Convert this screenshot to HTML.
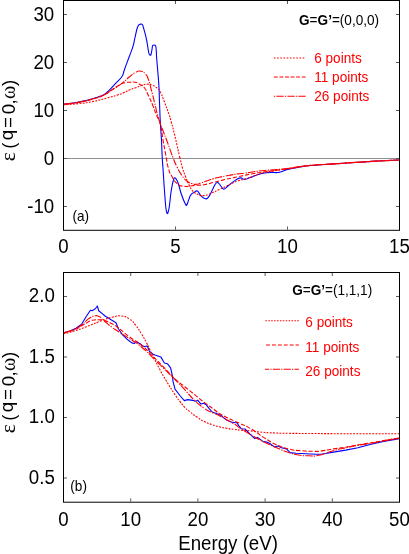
<!DOCTYPE html>
<html><head><meta charset="utf-8"><title>chart</title>
<style>html,body{margin:0;padding:0;background:#fff;}body{width:409px;height:554px;overflow:hidden;position:relative;font-family:"Liberation Sans",sans-serif;}</style>
</head><body>
<svg width="409" height="554" viewBox="0 0 409 554" style="position:absolute;left:0;top:0;will-change:transform">
<rect width="409" height="554" fill="#fff"/>
<line x1="63.5" y1="158.5" x2="399.5" y2="158.5" stroke="#909090" stroke-width="1"/>
<g clip-path="url(#ca)">
<path d="M63.5 104.2C65.2 104.0 67.5 103.8 71.0 103.3C74.5 102.8 75.2 102.8 78.7 102.1C82.2 101.4 82.6 101.3 86.0 100.5C89.4 99.7 90.3 99.4 93.3 98.5C96.3 97.6 96.5 97.5 99.0 96.6C101.5 95.7 101.4 96.4 103.9 94.8C106.4 93.2 107.1 92.4 109.8 89.7C112.5 87.0 112.8 86.5 115.6 83.4C118.4 80.3 119.9 79.7 122.0 76.5C124.1 73.3 122.7 74.4 124.4 69.7C126.1 65.0 127.3 61.9 129.3 56.5C131.3 51.1 131.6 51.1 132.9 46.7C134.2 42.3 134.1 41.5 135.0 37.5C135.9 33.5 136.1 32.2 136.8 29.5C137.5 26.8 137.6 27.0 138.2 25.8C138.8 24.6 138.8 24.9 139.4 24.5C140.0 24.1 140.1 24.1 140.8 24.1C141.5 24.1 141.7 23.8 142.3 24.6C142.9 25.4 142.6 24.7 143.4 27.5C144.2 30.3 144.9 32.5 145.8 36.4C146.7 40.2 146.6 40.2 147.3 44.0C148.0 47.8 148.2 50.2 148.8 52.8C149.4 55.4 149.5 54.6 150.0 55.0C150.5 55.4 150.6 55.7 151.0 54.5C151.4 53.3 151.6 51.9 151.9 50.0C152.2 48.1 152.2 47.3 152.5 46.2C152.8 45.1 152.6 45.5 153.2 45.3C153.8 45.1 154.6 44.9 155.2 45.3C155.8 45.7 155.6 45.2 155.9 47.0C156.2 48.8 156.2 50.0 156.4 53.0C156.6 56.0 156.2 52.7 156.8 60.0C157.4 67.3 158.2 75.1 158.8 84.4C159.4 93.7 159.1 91.2 159.4 100.0C159.8 108.8 159.8 112.6 160.3 122.0C160.8 131.4 161.1 132.6 161.5 140.3C161.9 148.0 161.7 147.0 162.1 155.0C162.5 163.0 162.8 165.1 163.4 174.4C164.0 183.7 164.1 186.2 164.8 195.0C165.5 203.8 165.6 208.7 166.6 212.0C167.6 215.3 167.9 213.4 168.9 209.0C169.9 204.6 169.9 199.5 170.9 193.0C171.9 186.5 172.2 184.5 173.2 181.0C174.2 177.5 174.1 177.4 175.2 177.9C176.3 178.4 176.7 179.2 178.1 183.0C179.5 186.8 179.7 189.3 181.3 194.0C182.9 198.7 183.7 200.7 185.0 203.3C186.3 205.9 185.9 205.7 186.7 205.0C187.5 204.3 187.6 202.5 188.6 200.1C189.6 197.7 189.7 196.4 191.0 194.6C192.3 192.8 192.5 193.3 194.0 192.5C195.5 191.7 195.7 190.3 197.4 191.1C199.1 191.9 199.2 194.2 201.1 196.0C203.0 197.8 203.7 198.5 205.4 198.8C207.1 199.1 206.8 199.1 208.4 197.2C210.0 195.3 210.5 193.5 212.1 190.5C213.7 187.5 213.9 186.2 215.2 184.3C216.5 182.4 216.5 182.3 217.6 182.5C218.7 182.7 219.0 183.6 220.1 185.0C221.2 186.4 221.5 187.4 222.5 188.3C223.5 189.2 223.2 189.4 224.3 189.0C225.4 188.6 225.7 187.9 227.4 186.5C229.1 185.1 229.6 184.6 231.7 182.9C233.8 181.2 234.5 180.6 236.6 179.4C238.7 178.2 239.1 177.9 240.8 177.9C242.5 177.9 242.2 179.1 243.7 179.3C245.2 179.5 245.3 179.3 247.3 178.7C249.3 178.1 249.6 177.9 252.2 176.9C254.8 175.9 255.5 175.3 258.3 174.4C261.1 173.5 261.5 173.5 264.4 173.0C267.3 172.5 267.7 172.5 270.6 172.4C273.5 172.3 274.4 172.7 276.7 172.6C279.0 172.5 278.3 172.6 280.3 172.0C282.3 171.4 282.9 170.9 285.2 170.2C287.5 169.5 285.8 169.8 290.0 168.9C294.2 168.0 297.3 167.3 303.3 166.4C309.3 165.5 308.4 165.8 315.6 165.2C322.8 164.6 324.2 164.6 334.2 163.9C344.2 163.2 347.1 162.9 358.4 162.2C369.7 161.5 373.0 161.3 382.6 160.8C392.2 160.3 395.6 160.2 399.5 160.0" fill="none" stroke="#0000ff" stroke-width="1.1" stroke-linejoin="round"/>
<path d="M63.5 104.8C68.6 104.4 68.8 104.7 78.7 103.6C88.6 102.5 83.5 103.4 93.3 101.4C103.1 99.4 99.9 99.8 108.0 97.7C116.1 95.6 112.3 96.7 117.6 95.0C122.9 93.3 120.1 94.3 124.0 92.6C127.9 90.9 125.6 91.4 129.3 89.9C133.0 88.4 131.1 89.4 135.0 88.0C138.9 86.6 137.0 87.0 141.1 85.7C145.2 84.4 143.5 84.4 147.2 84.2C150.9 84.0 148.8 83.8 152.1 85.1C155.4 86.4 154.1 85.5 157.0 88.1C159.9 90.7 158.3 88.5 160.7 93.0C163.1 97.5 161.5 94.3 164.3 101.6C167.1 108.9 166.9 108.2 169.2 115.0C171.5 121.8 169.2 114.0 171.3 122.0C173.4 130.0 173.0 128.1 175.6 139.1C178.2 150.1 177.7 148.6 179.2 155.0C180.7 161.4 179.0 153.9 180.1 158.3C181.2 162.7 180.7 162.0 182.5 168.1C184.3 174.2 183.4 171.0 185.6 176.7C187.8 182.4 186.8 180.3 189.2 185.2C191.6 190.1 191.0 188.7 192.9 191.3C194.8 193.9 192.7 191.6 195.0 192.9C197.3 194.2 197.0 194.2 199.9 195.1C202.8 196.0 200.8 195.8 203.6 195.6C206.4 195.4 205.2 195.5 208.4 194.4C211.6 193.3 209.6 193.9 213.3 192.3C217.0 190.7 215.3 191.4 219.4 189.5C223.5 187.6 221.5 188.4 225.6 186.5C229.7 184.6 227.6 185.5 231.7 183.7C235.8 181.9 233.0 182.7 237.8 181.0C242.6 179.3 241.3 180.2 246.1 178.7C250.9 177.2 248.1 178.0 252.2 176.6C256.3 175.2 254.2 175.7 258.3 174.4C262.4 173.1 258.3 173.9 264.4 172.6C270.5 171.3 268.2 171.7 276.7 170.4C285.2 169.1 281.1 170.0 290.0 168.6C298.9 167.2 294.8 167.4 303.3 166.2C311.8 165.0 305.3 165.8 315.6 165.0C325.9 164.2 319.9 164.8 334.2 163.9C348.5 163.0 342.3 163.2 358.4 162.2C374.5 161.2 368.9 161.5 382.6 160.8C396.3 160.1 393.9 160.3 399.5 160.0" fill="none" stroke="#ff0000" stroke-width="1.1" stroke-linejoin="round" stroke-dasharray="1.9 1.3"/>
<path d="M63.5 104.3C68.6 103.6 68.8 104.1 78.7 102.3C88.6 100.5 84.9 101.3 93.3 98.9C101.7 96.5 98.0 97.8 103.9 95.0C109.8 92.2 105.8 94.0 111.0 90.6C116.2 87.2 114.8 87.5 119.6 84.8C124.4 82.1 121.6 83.4 125.4 82.6C129.2 81.8 127.7 82.4 130.9 82.3C134.1 82.2 132.0 81.5 135.0 82.2C138.0 82.9 136.8 82.6 139.9 84.4C143.0 86.2 141.4 83.8 144.2 87.5C147.0 91.2 145.6 89.6 148.4 95.5C151.2 101.4 150.0 98.7 152.7 105.2C155.4 111.7 153.9 108.7 156.4 115.0C158.9 121.3 158.1 115.7 160.3 124.0C162.5 132.3 161.2 129.7 163.0 140.0C164.8 150.3 164.0 145.6 165.8 155.0C167.6 164.4 166.3 160.9 168.4 168.1C170.5 175.3 169.2 171.6 172.1 176.7C175.0 181.8 173.3 180.2 177.0 183.4C180.7 186.6 178.2 185.4 183.1 186.2C188.0 187.0 187.7 186.1 191.7 185.8C195.7 185.5 191.9 185.5 195.0 185.3C198.1 185.1 197.0 185.5 201.1 185.1C205.2 184.7 203.1 185.0 207.2 184.1C211.3 183.2 209.2 183.6 213.3 182.5C217.4 181.4 215.3 181.9 219.4 180.9C223.5 179.9 221.5 180.4 225.6 179.4C229.7 178.4 227.6 178.9 231.7 178.0C235.8 177.1 233.4 177.7 237.8 176.8C242.2 175.9 240.2 176.2 245.0 175.2C249.8 174.2 245.7 174.9 252.2 173.8C258.7 172.7 256.2 173.0 264.4 171.8C272.6 170.6 268.2 171.4 276.7 170.2C285.2 169.0 281.1 169.6 290.0 168.3C298.9 167.0 294.8 167.3 303.3 166.2C311.8 165.1 305.3 165.8 315.6 165.0C325.9 164.2 319.9 164.8 334.2 163.9C348.5 163.0 342.3 163.2 358.4 162.2C374.5 161.2 368.9 161.5 382.6 160.8C396.3 160.1 393.9 160.3 399.5 160.0" fill="none" stroke="#ff0000" stroke-width="1.1" stroke-linejoin="round" stroke-dasharray="4.4 1.8"/>
<path d="M63.5 104.3C68.6 103.6 68.8 104.1 78.7 102.2C88.6 100.3 84.9 101.1 93.3 98.7C101.7 96.3 98.0 97.7 103.9 94.9C109.8 92.1 106.8 93.0 111.0 90.4C115.2 87.8 112.7 89.5 116.5 87.0C120.3 84.5 118.2 86.2 122.5 82.9C126.8 79.6 125.1 80.4 129.3 77.0C133.5 73.6 131.5 74.5 135.2 72.6C138.9 70.7 137.1 70.7 140.5 71.2C143.9 71.7 142.8 71.3 145.4 74.1C148.0 76.9 146.4 74.1 148.4 79.6C150.4 85.1 149.4 82.9 151.5 90.6C153.6 98.3 152.6 94.7 154.6 102.8C156.6 110.9 155.6 107.9 157.6 115.0C159.6 122.1 158.5 118.3 160.5 124.0C162.5 129.7 161.5 126.7 163.5 132.0C165.5 137.3 164.5 134.5 166.6 140.0C168.7 145.5 167.5 142.5 169.7 148.6C171.9 154.7 170.9 152.2 173.3 158.3C175.7 164.4 174.1 161.2 177.0 166.9C179.9 172.6 178.6 170.8 181.9 175.5C185.2 180.2 183.5 178.4 186.8 181.0C190.1 183.6 188.4 182.3 191.7 183.4C195.0 184.5 193.5 184.5 196.6 184.3C199.7 184.1 197.6 184.1 201.1 182.9C204.6 181.7 203.1 182.1 207.2 180.7C211.3 179.3 209.2 180.0 213.3 178.8C217.4 177.6 215.3 178.1 219.4 177.2C223.5 176.3 221.5 176.8 225.6 176.0C229.7 175.2 227.6 175.6 231.7 174.9C235.8 174.2 233.4 174.5 237.8 173.9C242.2 173.3 240.2 173.7 245.0 173.1C249.8 172.5 245.7 172.9 252.2 172.0C258.7 171.1 256.2 171.3 264.4 170.5C272.6 169.7 268.2 170.4 276.7 169.6C285.2 168.8 281.1 169.2 290.0 168.1C298.9 167.0 294.8 167.2 303.3 166.2C311.8 165.2 305.3 165.8 315.6 165.0C325.9 164.2 319.9 164.8 334.2 163.9C348.5 163.0 342.3 163.2 358.4 162.2C374.5 161.2 368.9 161.5 382.6 160.8C396.3 160.1 393.9 160.3 399.5 160.0" fill="none" stroke="#ff0000" stroke-width="1.1" stroke-linejoin="round" stroke-dasharray="1.3 1.3 7.3 1.3"/>
</g>
<path d="M63.5 332.8L70.0 331.0L76.0 328.3L81.6 324.3L86.4 316.3L90.4 310.2L92.0 310.8L95.0 309.0L96.7 307.0L97.2 305.9L97.8 307.5L98.7 310.8L102.3 313.6L105.0 316.0L111.1 319.7L116.0 322.7L118.4 328.8L122.1 334.3L127.0 339.2L131.9 342.9L134.3 343.5L136.2 341.7L140.5 344.1L144.1 346.6L147.2 346.0L149.6 351.5L152.7 353.9L155.0 354.9L160.8 356.9L164.4 363.0L167.4 363.7L170.6 367.9L172.3 375.2L173.0 381.3L175.0 389.2L179.9 395.5L184.3 400.6L187.7 399.6L192.6 400.4L196.0 401.2L197.7 400.2L200.9 404.1L203.4 403.2L206.3 404.8L209.2 408.7L212.2 412.0L216.4 413.6L221.5 415.8L226.7 420.2L232.5 422.4L236.9 422.8L239.1 426.1L241.3 428.7L245.0 429.0L247.9 431.9L250.0 434.1L254.7 438.6L257.6 437.4L263.2 441.6L266.9 442.1L270.6 444.0L274.2 446.9L277.9 446.0L281.6 447.7L286.5 448.9L290.1 452.6L296.2 453.3L306.0 453.8L315.8 454.3L321.2 454.3L333.4 452.1L345.7 450.1L357.9 447.7L370.1 444.5L382.3 441.6L392.1 439.9L399.5 438.6" fill="none" stroke="#0000ff" stroke-width="1.1" stroke-linejoin="round"/>
<path d="M63.5 333.5C67.1 332.7 66.6 333.3 74.2 331.0C81.8 328.7 78.2 329.8 86.4 326.7C94.6 323.6 92.6 324.2 98.7 321.8C104.8 319.4 100.3 320.9 104.8 319.4C109.3 317.9 106.9 318.3 112.3 317.2C117.7 316.1 115.2 315.4 120.9 316.0C126.6 316.6 124.5 316.0 129.4 319.1C134.3 322.2 131.5 320.1 135.6 325.2C139.7 330.3 138.0 328.4 141.7 334.3C145.4 340.2 143.8 337.6 146.6 342.9C149.4 348.2 147.8 345.3 150.2 350.2C152.6 355.1 150.8 351.3 153.9 357.6C157.0 363.9 155.5 361.5 159.6 369.1C163.7 376.7 161.0 372.0 166.1 380.5C171.2 389.0 170.4 387.6 175.0 394.6C179.6 401.6 176.6 397.2 179.9 401.4C183.2 405.6 181.4 403.8 184.8 407.3C188.2 410.8 185.8 408.5 190.0 411.8C194.2 415.1 192.4 414.0 197.3 417.3C202.2 420.6 199.8 419.3 204.7 421.7C209.6 424.1 207.1 422.9 212.0 424.6C216.9 426.3 214.4 425.6 219.3 426.8C224.2 428.0 221.8 427.5 226.7 428.3C231.6 429.1 229.1 428.7 234.0 429.3C238.9 429.9 236.0 429.7 241.3 430.2C246.6 430.7 243.8 430.2 250.0 430.8C256.2 431.4 251.5 431.3 259.8 432.0C268.1 432.7 265.3 432.6 275.0 433.0C284.7 433.4 276.1 433.1 288.9 433.3C301.7 433.5 296.3 433.4 313.3 433.5C330.3 433.6 311.1 433.6 339.8 433.7C368.5 433.8 379.6 433.8 399.5 433.8" fill="none" stroke="#ff0000" stroke-width="1.1" stroke-linejoin="round" stroke-dasharray="1.9 1.3"/>
<path d="M63.5 332.8C67.2 331.7 68.7 331.9 74.7 329.6C80.7 327.3 77.7 328.0 81.6 325.8C85.5 323.6 83.6 324.7 86.4 323.1C89.2 321.5 87.6 322.0 90.1 321.0C92.6 320.0 91.1 320.4 94.0 320.0C96.9 319.6 95.1 319.6 98.7 319.8C102.3 320.0 100.4 319.3 104.8 320.6C109.2 321.9 107.9 321.6 112.0 323.7C116.1 325.8 111.4 322.6 117.2 327.0C123.0 331.4 121.2 330.7 129.4 336.8C137.6 342.9 134.1 339.0 141.7 345.3C149.3 351.6 144.6 348.2 152.2 355.7C159.8 363.2 156.8 360.2 164.4 367.9C172.0 375.6 168.2 372.6 175.0 378.9C181.8 385.2 178.3 381.5 184.8 386.7C191.3 391.9 188.1 389.4 194.6 394.6C201.1 399.8 197.5 397.2 204.3 402.4C211.1 407.6 210.0 406.5 215.0 410.2C220.0 413.9 213.0 409.8 219.3 413.4C225.6 417.0 227.1 417.5 234.0 420.9C240.9 424.3 233.9 420.6 240.0 423.5C246.1 426.4 244.1 424.7 252.2 429.5C260.3 434.3 256.2 432.8 264.4 437.9C272.6 443.0 268.5 441.1 276.7 444.8C284.9 448.5 280.8 447.0 288.9 449.0C297.0 451.0 293.0 449.9 301.1 450.7C309.2 451.5 306.6 451.2 313.3 451.3C320.0 451.4 314.5 451.7 321.2 450.9C327.9 450.1 325.2 450.1 333.4 448.9C341.6 447.7 337.5 448.5 345.7 447.2C353.9 445.9 349.8 446.3 357.9 444.9C366.0 443.5 362.0 444.4 370.1 443.0C378.2 441.6 372.5 442.5 382.3 440.8C392.1 439.1 393.8 438.9 399.5 437.9" fill="none" stroke="#ff0000" stroke-width="1.1" stroke-linejoin="round" stroke-dasharray="4.4 1.8"/>
<path d="M63.5 332.8C67.2 331.6 68.7 331.7 74.7 329.1C80.7 326.5 77.7 327.7 81.6 324.9C85.5 322.1 83.3 323.2 86.4 320.6C89.5 318.0 87.9 318.8 91.0 317.2C94.1 315.6 92.9 315.9 95.6 315.7C98.3 315.5 96.8 315.6 99.0 316.6C101.2 317.6 100.3 317.2 102.3 318.8C104.3 320.4 101.8 318.7 105.0 321.5C108.2 324.3 107.9 324.2 112.0 327.3C116.1 330.4 111.4 326.9 117.2 330.7C123.0 334.5 121.2 333.1 129.4 338.6C137.6 344.1 133.5 340.5 141.7 347.2C149.9 353.9 146.3 351.5 153.9 358.8C161.5 366.1 157.4 362.2 164.4 369.1C171.4 376.0 168.2 372.6 175.0 379.5C181.8 386.4 178.3 382.7 184.8 389.7C191.3 396.7 188.1 394.2 194.6 400.4C201.1 406.6 198.4 404.2 204.3 408.3C210.2 412.4 207.2 410.2 212.2 412.7C217.2 415.2 212.0 412.1 219.3 415.8C226.6 419.5 227.1 419.8 234.0 423.9C240.9 428.0 233.9 424.2 240.0 428.1C246.1 432.0 244.1 430.8 252.2 435.5C260.3 440.2 256.2 438.0 264.4 442.1C272.6 446.2 268.5 444.2 276.7 447.7C284.9 451.2 281.6 450.2 288.9 452.6C296.2 455.0 292.2 454.0 298.7 455.0C305.2 456.0 301.7 455.6 308.4 455.7C315.1 455.8 310.5 456.9 318.8 455.3C327.1 453.7 324.4 453.3 333.4 450.8C342.4 448.3 337.5 449.6 345.7 447.8C353.9 446.0 349.8 446.7 357.9 445.3C366.0 443.9 362.0 444.9 370.1 443.5C378.2 442.1 372.5 442.9 382.3 441.1C392.1 439.3 393.8 439.1 399.5 438.1" fill="none" stroke="#ff0000" stroke-width="1.1" stroke-linejoin="round" stroke-dasharray="1.3 1.3 7.3 1.3"/>
<defs><clipPath id="ca"><rect x="63.5" y="0.5" width="336.0" height="229.8"/></clipPath></defs>
<rect x="63.5" y="0.5" width="336.0" height="229.8" fill="none" stroke="#000" stroke-width="1"/>
<rect x="63.5" y="272.5" width="336.0" height="229.7" fill="none" stroke="#000" stroke-width="1"/>
<path d="M64.0 14.5 L67.0 14.5 M399.0 14.5 L396.0 14.5 M64.0 62.5 L67.0 62.5 M399.0 62.5 L396.0 62.5 M64.0 110.5 L67.0 110.5 M399.0 110.5 L396.0 110.5 M64.0 158.5 L67.0 158.5 M399.0 158.5 L396.0 158.5 M64.0 206.5 L67.0 206.5 M399.0 206.5 L396.0 206.5 M175.5 229.8 L175.5 226.5 M175.5 1.0 L175.5 4.0 M287.5 229.8 L287.5 226.5 M287.5 1.0 L287.5 4.0 M64.0 296.5 L67.0 296.5 M399.0 296.5 L396.0 296.5 M64.0 357.0 L67.0 357.0 M399.0 357.0 L396.0 357.0 M64.0 417.5 L67.0 417.5 M399.0 417.5 L396.0 417.5 M64.0 478.0 L67.0 478.0 M399.0 478.0 L396.0 478.0 M130.7 501.7 L130.7 498.4 M130.7 273.0 L130.7 276.0 M197.9 501.7 L197.9 498.4 M197.9 273.0 L197.9 276.0 M265.1 501.7 L265.1 498.4 M265.1 273.0 L265.1 276.0 M332.3 501.7 L332.3 498.4 M332.3 273.0 L332.3 276.0" stroke="#5a5a5a" stroke-width="1" fill="none"/>
<g font-family="Liberation Sans, sans-serif" font-size="18.7" fill="#000">
<text transform="translate(54.20 21.00) scale(1 1.045)" text-anchor="end">30</text>
<text transform="translate(54.20 69.00) scale(1 1.045)" text-anchor="end">20</text>
<text transform="translate(54.20 117.00) scale(1 1.045)" text-anchor="end">10</text>
<text transform="translate(54.20 165.00) scale(1 1.045)" text-anchor="end">0</text>
<text transform="translate(54.20 213.00) scale(1 1.045)" text-anchor="end">-10</text>
<text transform="translate(63.50 253.10) scale(1 1.045)" text-anchor="middle">0</text>
<text transform="translate(175.50 253.10) scale(1 1.045)" text-anchor="middle">5</text>
<text transform="translate(287.50 253.10) scale(1 1.045)" text-anchor="middle">10</text>
<text transform="translate(399.50 253.10) scale(1 1.045)" text-anchor="middle">15</text>
<text transform="translate(54.80 302.40) scale(1 1.045)" text-anchor="end">2.0</text>
<text transform="translate(54.80 362.90) scale(1 1.045)" text-anchor="end">1.5</text>
<text transform="translate(54.80 423.40) scale(1 1.045)" text-anchor="end">1.0</text>
<text transform="translate(54.80 483.90) scale(1 1.045)" text-anchor="end">0.5</text>
<text transform="translate(63.50 525.70) scale(1 1.045)" text-anchor="middle">0</text>
<text transform="translate(130.70 525.70) scale(1 1.045)" text-anchor="middle">10</text>
<text transform="translate(197.90 525.70) scale(1 1.045)" text-anchor="middle">20</text>
<text transform="translate(265.10 525.70) scale(1 1.045)" text-anchor="middle">30</text>
<text transform="translate(332.30 525.70) scale(1 1.045)" text-anchor="middle">40</text>
<text transform="translate(399.50 525.70) scale(1 1.045)" text-anchor="middle">50</text>
<text transform="translate(228.10 550.30) scale(1 1.045)" text-anchor="middle">Energy (eV)</text>
<g transform="translate(14.5 161) rotate(-90)"><text x="-0.3" font-family="Liberation Serif, serif" font-size="21.5">ε</text><text x="12.3">(</text><text x="20.7" y="-2">q</text><text x="33.1" y="-0.4">=</text><text x="46.8">0</text><text x="56.5">,</text><text x="62.1" font-family="Liberation Serif, serif" font-size="20.3">ω</text><text x="75.1">)</text></g>
<g transform="translate(14.5 433) rotate(-90)"><text x="-0.3" font-family="Liberation Serif, serif" font-size="21.5">ε</text><text x="12.3">(</text><text x="20.7" y="-2">q</text><text x="33.1" y="-0.4">=</text><text x="46.8">0</text><text x="56.5">,</text><text x="62.1" font-family="Liberation Serif, serif" font-size="20.3">ω</text><text x="75.1">)</text></g>
</g>
<g font-family="Liberation Sans, sans-serif" font-size="13.6">
<text transform="translate(72.50 220.90) scale(1 1.045)" text-anchor="start">(a)</text>
<text transform="translate(70.30 491.20) scale(1 1.045)" text-anchor="start">(b)</text>
<text transform="translate(379.10 25.00) scale(1 1.045)" text-anchor="end"><tspan font-weight="bold">G</tspan>=<tspan font-weight="bold">G’</tspan>=(0,0,0)</text>
<text transform="translate(372.20 294.80) scale(1 1.045)" text-anchor="end"><tspan font-weight="bold">G</tspan>=<tspan font-weight="bold">G’</tspan>=(1,1,1)</text>
<g fill="#ff0000">
<text transform="translate(314.20 62.50) scale(1 1.045)" text-anchor="start">6 points</text>
<text transform="translate(314.20 82.00) scale(1 1.045)" text-anchor="start">11 points</text>
<text transform="translate(314.20 100.70) scale(1 1.045)" text-anchor="start">26 points</text>
<text transform="translate(305.30 327.40) scale(1 1.045)" text-anchor="start">6 points</text>
<text transform="translate(305.30 351.50) scale(1 1.045)" text-anchor="start">11 points</text>
<text transform="translate(305.30 375.60) scale(1 1.045)" text-anchor="start">26 points</text>
</g></g>
<line x1="273.9" x2="305.7" y1="57.9" y2="57.9" stroke="#ff0000" stroke-width="1.05" stroke-dasharray="1.6 1.6" stroke-dashoffset="0"/>
<line x1="273.9" x2="305.7" y1="76.9" y2="76.9" stroke="#ff0000" stroke-width="1.05" stroke-dasharray="3.9 1.66" stroke-dashoffset="0"/>
<line x1="273.9" x2="305.7" y1="96.3" y2="96.3" stroke="#ff0000" stroke-width="1.05" stroke-dasharray="1.3 1.2 7.3 1.2" stroke-dashoffset="0"/>
<line x1="265.4" x2="298.9" y1="320.8" y2="320.8" stroke="#ff0000" stroke-width="1.05" stroke-dasharray="1.5 1.4" stroke-dashoffset="0"/>
<line x1="266.1" x2="298.9" y1="345.0" y2="345.0" stroke="#ff0000" stroke-width="1.05" stroke-dasharray="3.9 2.0" stroke-dashoffset="0"/>
<line x1="264.9" x2="298.9" y1="369.2" y2="369.2" stroke="#ff0000" stroke-width="1.05" stroke-dasharray="7.2 1.2 1.2 1.2" stroke-dashoffset="2.9"/>
</svg>
</body></html>
